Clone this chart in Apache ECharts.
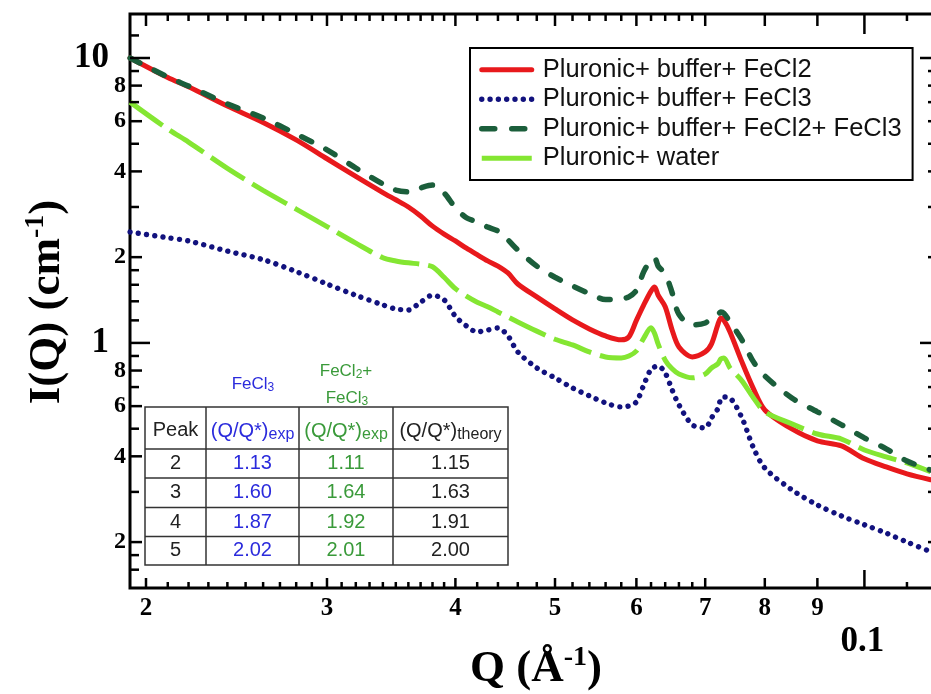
<!DOCTYPE html>
<html>
<head>
<meta charset="utf-8">
<script src="https://cdn.jsdelivr.net/npm/echarts@6/dist/echarts.min.js"></script>
<style>
  html, body { margin: 0; padding: 0; background: #fff; }
  #chart { width: 931px; height: 694px; }
</style>
</head>
<body>
<div id="chart"></div>
<script>
// Scattering vector Q (1/Angstrom), shared by all four curves
const qValues = [0.0193, 0.021, 0.022, 0.024, 0.026, 0.028, 0.030, 0.032, 0.034, 0.035,
  0.036, 0.037, 0.038, 0.039, 0.040, 0.041, 0.042, 0.043, 0.044, 0.045,
  0.046, 0.048, 0.050, 0.052, 0.054, 0.056, 0.058, 0.059, 0.060, 0.061,
  0.062, 0.0625, 0.063, 0.064, 0.065, 0.066, 0.068, 0.070, 0.071, 0.072,
  0.0725, 0.073, 0.074, 0.076, 0.078, 0.080, 0.085, 0.090, 0.095, 0.100,
  0.105, 0.110, 0.116];

// Scattered intensity I(Q) in 1/cm
const iFeCl2 = [10.0, 8.54, 7.92, 6.78, 5.94, 5.16, 4.43, 3.84, 3.37, 3.18,
  3.00, 2.79, 2.57, 2.41, 2.28, 2.15, 2.04, 1.94, 1.86, 1.76,
  1.61, 1.45, 1.316, 1.204, 1.12, 1.058, 1.025, 1.05, 1.20, 1.36,
  1.52, 1.57, 1.47, 1.34, 1.11, 0.968, 0.893, 0.93, 0.992, 1.157,
  1.224, 1.20, 1.093, 0.858, 0.690, 0.582, 0.499, 0.453, 0.435, 0.392,
  0.367, 0.347, 0.331];

const iFeCl3 = [2.45, 2.34, 2.28, 2.10, 1.96, 1.78, 1.61, 1.47, 1.36, 1.316,
  1.305, 1.39, 1.47, 1.416, 1.24, 1.147, 1.093, 1.11, 1.129, 1.058,
  0.930, 0.817, 0.754, 0.695, 0.652, 0.616, 0.596, 0.601, 0.621, 0.712,
  0.811, 0.824, 0.830, 0.785, 0.684, 0.606, 0.516, 0.503, 0.546, 0.587,
  0.636, 0.646, 0.641, 0.546, 0.428, 0.364, 0.305, 0.270, 0.247, 0.230,
  0.215, 0.200, 0.185];

const iFeCl2FeCl3 = [10.0, 8.58, 7.97, 6.90, 6.16, 5.41, 4.76, 4.11, 3.61, 3.44,
  3.39, 3.50, 3.58, 3.36, 2.98, 2.75, 2.66, 2.55, 2.47, 2.30,
  2.12, 1.86, 1.70, 1.585, 1.49, 1.42, 1.43, 1.45, 1.53, 1.78,
  1.96, 1.99, 1.86, 1.75, 1.50, 1.26, 1.157, 1.175, 1.224, 1.25,
  1.285, 1.27, 1.185, 1.025, 0.858, 0.766, 0.641, 0.573, 0.516, 0.464,
  0.425, 0.385, 0.358];

const iWater = [7.0, 5.63, 5.07, 4.10, 3.43, 2.95, 2.56, 2.24, 1.99, 1.94,
  1.91, 1.89, 1.85, 1.70, 1.55, 1.46, 1.39, 1.34, 1.285, 1.234,
  1.185, 1.10, 1.03, 0.984, 0.930, 0.893, 0.886, 0.90, 0.937, 1.04,
  1.13, 1.08, 0.99, 0.87, 0.811, 0.778, 0.754, 0.778, 0.817, 0.844,
  0.879, 0.886, 0.817, 0.736, 0.641, 0.573, 0.52, 0.479, 0.46, 0.421,
  0.398, 0.379, 0.353];

const seriesNames = [
  'Pluronic+ buffer+ FeCl2',
  'Pluronic+ buffer+ FeCl3',
  'Pluronic+ buffer+ FeCl2+ FeCl3',
  'Pluronic+ water'
];

// Axis ranges
const qMin = 0.019296, qMax = 0.11687;
const iMin = 0.138, iMax = 14.27;

// Tick marks and their labels
const xMinorTicks = [0.021, 0.022, 0.023, 0.024, 0.025, 0.026, 0.027, 0.028, 0.029,
  0.031, 0.032, 0.033, 0.034, 0.035, 0.036, 0.037, 0.038, 0.039,
  0.042, 0.044, 0.046, 0.048, 0.052, 0.054, 0.056, 0.058,
  0.062, 0.064, 0.066, 0.068, 0.11];
const xMajorTicks = [0.02, 0.03, 0.04, 0.05, 0.06, 0.07, 0.08, 0.09];
const xMajorLabels = ['2', '3', '4', '5', '6', '7', '8', '9'];
const xDecadeTicks = [0.1];
const xDecadeLabels = ['0.1'];

const yMinorTicks = [0.16, 0.18, 0.3, 0.5, 0.7, 0.9, 1.2, 1.4, 1.6, 1.8, 3, 5, 7, 9, 12];
const yRightMinorTicks = [0.3, 0.5, 0.7, 0.9, 3, 5, 7, 9];
const yMajorTicks = [0.2, 0.4, 0.6, 0.8, 2, 4, 6, 8];
const yMajorLabels = ['2', '4', '6', '8', '2', '4', '6', '8'];
const yDecadeTicks = [1, 10];
const yDecadeLabels = ['1', '10'];

// Peak position table
const tablePeaks = ['2', '3', '4', '5'];
const tableFeCl3 = ['1.13', '1.60', '1.87', '2.02'];
const tableMixed = ['1.11', '1.64', '1.92', '2.01'];
const tableTheory = ['1.15', '1.63', '1.91', '2.00'];

const SERIF = "'Liberation Serif','Times New Roman',serif";
const SANS = "'Liberation Sans',Arial,Helvetica,sans-serif";
const BLUE_TXT = '#2b2bdc';
const GREEN_TXT = '#3a9a3a';

function pairs(values) {
  return qValues.map((q, k) => [q, values[k]]);
}

const xTickList = [].concat(
  xMinorTicks.map(v => ({ v, kind: 0, label: '' })),
  xMajorTicks.map((v, k) => ({ v, kind: 1, label: xMajorLabels[k] })),
  xDecadeTicks.map((v, k) => ({ v, kind: 2, label: xDecadeLabels[k] }))
);
const yTickList = [].concat(
  yMinorTicks.map(v => ({ v, kind: 0, label: '', right: yRightMinorTicks.indexOf(v) >= 0 })),
  yMajorTicks.map((v, k) => ({ v, kind: 1, label: yMajorLabels[k], right: true })),
  yDecadeTicks.map((v, k) => ({ v, kind: 2, label: yDecadeLabels[k], right: true }))
);

function tickLine(x1, y1, x2, y2) {
  return { type: 'line', shape: { x1, y1, x2, y2 }, style: { stroke: '#000', lineWidth: 2.5 } };
}

function renderXTick(params, api) {
  const t = xTickList[params.dataIndex];
  const cs = params.coordSys;
  const x = api.coord([t.v, 1])[0];
  const top = cs.y, bottom = cs.y + cs.height;
  const lenBottom = [6, 10, 18][t.kind];
  const lenTop = [7, 12, 20][t.kind];
  const children = [
    tickLine(x, bottom, x, bottom - lenBottom),
    tickLine(x, top, x, top + lenTop)
  ];
  if (t.kind === 1) {
    children.push({ type: 'text', x: x, y: bottom + 21,
      style: { text: t.label, fill: '#000', fontFamily: SERIF, fontWeight: 'bold', fontSize: 25,
        align: 'center', verticalAlign: 'middle' } });
  } else if (t.kind === 2) {
    children.push({ type: 'text', x: x - 2, y: bottom + 54,
      style: { text: t.label, fill: '#000', fontFamily: SERIF, fontWeight: 'bold', fontSize: 35,
        align: 'center', verticalAlign: 'middle' } });
  }
  return { type: 'group', children };
}

function renderYTick(params, api) {
  const t = yTickList[params.dataIndex];
  const cs = params.coordSys;
  const y = api.coord([qMin, t.v])[1];
  const left = cs.x, right = cs.x + cs.width;
  const lenLeft = [9, 12, 20][t.kind];
  const lenRight = [6, 6, 14][t.kind];
  const children = [tickLine(left, y, left + lenLeft, y)];
  if (t.right) children.push(tickLine(right, y, right - lenRight, y));
  if (t.kind === 1) {
    children.push({ type: 'text', x: left - 4, y: y,
      style: { text: t.label, fill: '#000', fontFamily: SERIF, fontWeight: 'bold', fontSize: 24,
        align: 'right', verticalAlign: 'middle' } });
  } else if (t.kind === 2) {
    children.push({ type: 'text', x: left - 21, y: y,
      style: { text: t.label, fill: '#000', fontFamily: SERIF, fontWeight: 'bold', fontSize: 35,
        align: 'right', verticalAlign: 'middle' } });
  }
  return { type: 'group', children };
}

// Peak ratio table drawn as graphic elements
function buildTable() {
  const colX = [145, 206, 299, 393, 508];
  const rowY = [407, 449, 478, 507.5, 536.5, 565];
  const els = [];
  els.push({ type: 'rect', shape: { x: colX[0], y: rowY[0], width: colX[4] - colX[0], height: rowY[5] - rowY[0] },
    style: { fill: '#fff', stroke: '#333', lineWidth: 1.5 } });
  for (let c = 1; c < colX.length - 1; c++) {
    els.push({ type: 'line', shape: { x1: colX[c], y1: rowY[0], x2: colX[c], y2: rowY[5] },
      style: { stroke: '#333', lineWidth: 1.5 } });
  }
  for (let r = 1; r < rowY.length - 1; r++) {
    els.push({ type: 'line', shape: { x1: colX[0], y1: rowY[r], x2: colX[4], y2: rowY[r] },
      style: { stroke: '#333', lineWidth: 1.5 } });
  }
  const mid = c => (colX[c] + colX[c + 1]) / 2;
  const subRich = color => ({
    m: { fontFamily: SANS, fontSize: 20, fill: color, lineHeight: 22, verticalAlign: 'top' },
    s: { fontFamily: SANS, fontSize: 16, fill: color, lineHeight: 16, padding: [12, 0, 0, 0], verticalAlign: 'bottom' }
  });
  const headY = 432;
  els.push({ type: 'text', x: mid(0), y: 430,
    style: { text: 'Peak', fill: '#222', fontFamily: SANS, fontSize: 20, align: 'center', verticalAlign: 'middle' } });
  els.push({ type: 'text', x: mid(1), y: headY,
    style: { text: '{m|(Q/Q*)}{s|exp}', rich: subRich(BLUE_TXT), align: 'center', verticalAlign: 'middle' } });
  els.push({ type: 'text', x: mid(2), y: headY,
    style: { text: '{m|(Q/Q*)}{s|exp}', rich: subRich(GREEN_TXT), align: 'center', verticalAlign: 'middle' } });
  els.push({ type: 'text', x: mid(3), y: headY,
    style: { text: '{m|(Q/Q*)}{s|theory}', rich: subRich('#222'), align: 'center', verticalAlign: 'middle' } });
  const cols = [[tablePeaks, '#222'], [tableFeCl3, BLUE_TXT], [tableMixed, GREEN_TXT], [tableTheory, '#222']];
  cols.forEach(([vals, color], c) => {
    vals.forEach((txt, r) => {
      els.push({ type: 'text', x: mid(c), y: (rowY[r + 1] + rowY[r + 2]) / 2,
        style: { text: txt, fill: color, fontFamily: SANS, fontSize: 20, align: 'center', verticalAlign: 'middle' } });
    });
  });
  // column captions above the table
  const capRich = color => ({
    m: { fontFamily: SANS, fontSize: 17, fill: color, lineHeight: 18, verticalAlign: 'top' },
    s: { fontFamily: SANS, fontSize: 12, fill: color, lineHeight: 12, padding: [9, 0, 0, 0], verticalAlign: 'bottom' }
  });
  els.push({ type: 'text', x: 253, y: 385,
    style: { text: '{m|FeCl}{s|3}', rich: capRich(BLUE_TXT), align: 'center', verticalAlign: 'middle' } });
  els.push({ type: 'text', x: 346, y: 372,
    style: { text: '{m|FeCl}{s|2}{m|+}', rich: capRich(GREEN_TXT), align: 'center', verticalAlign: 'middle' } });
  els.push({ type: 'text', x: 347, y: 399,
    style: { text: '{m|FeCl}{s|3}', rich: capRich(GREEN_TXT), align: 'center', verticalAlign: 'middle' } });
  return els;
}

const supRich = {
  m: { fontFamily: SERIF, fontWeight: 'bold', fontSize: 45, fill: '#000', lineHeight: 48, verticalAlign: 'bottom' },
  s: { fontFamily: SERIF, fontWeight: 'bold', fontSize: 28, fill: '#000', lineHeight: 28, verticalAlign: 'top' }
};

const chart = echarts.init(document.getElementById('chart'), null, { renderer: 'canvas' });

chart.setOption({
  animation: false,
  backgroundColor: '#fff',
  grid: {
    left: 130, right: -3, top: 14, bottom: 106,
    show: true, borderColor: '#000', borderWidth: 3,
    outerBoundsMode: 'none'
  },
  xAxis: {
    type: 'log', logBase: 10, min: qMin, max: qMax,
    axisLine: { show: false }, axisTick: { show: false }, axisLabel: { show: false },
    splitLine: { show: false }, minorTick: { show: false }
  },
  yAxis: {
    type: 'log', logBase: 10, min: iMin, max: iMax,
    axisLine: { show: false }, axisTick: { show: false }, axisLabel: { show: false },
    splitLine: { show: false }, minorTick: { show: false }
  },
  legend: {
    orient: 'vertical', left: 470, top: 48,
    padding: [7, 11, 7, 9], itemGap: 0, itemWidth: 50, itemHeight: 14,
    backgroundColor: '#fff', borderColor: '#000', borderWidth: 2,
    selectedMode: false,
    textStyle: { fontFamily: SANS, fontSize: 25.5, color: '#111', lineHeight: 29.5, padding: [0, 0, 0, 6] },
    lineStyle: { width: 'inherit', type: 'inherit', cap: 'inherit' },
    itemStyle: { opacity: 0, borderWidth: 0 },
    data: [
      { name: seriesNames[0] },
      { name: seriesNames[1] },
      { name: seriesNames[2], lineStyle: { type: [13, 17] } },
      { name: seriesNames[3], lineStyle: { type: 'solid' } }
    ]
  },
  graphic: [
    { type: 'text', x: 46, y: 302, rotation: Math.PI / 2,
      style: { text: '{m|I(Q) (cm}{s|-1}{m|)}', rich: supRich, align: 'center', verticalAlign: 'middle' } },
    { type: 'text', x: 536, y: 668,
      style: { text: '{m|Q (\u00C5}{s|-1}{m|)}', rich: supRich, align: 'center', verticalAlign: 'middle' } },
    { type: 'group', children: buildTable() }
  ],
  series: [
    {
      name: seriesNames[0], type: 'line', data: pairs(iFeCl2),
      showSymbol: false, symbol: 'none', smooth: 0.3, z: 3,
      lineStyle: { color: '#e8191c', width: 5, type: 'solid', cap: 'round', join: 'round' },
      itemStyle: { color: '#e8191c' }
    },
    {
      name: seriesNames[1], type: 'line', data: pairs(iFeCl3),
      showSymbol: false, symbol: 'none', smooth: 0.3, z: 3,
      lineStyle: { color: '#12127e', width: 5.4, type: [0.01, 8.3], cap: 'round' },
      itemStyle: { color: '#12127e' }
    },
    {
      name: seriesNames[3], type: 'line', data: pairs(iWater),
      showSymbol: false, symbol: 'none', smooth: 0.3, z: 3,
      lineStyle: { color: '#84e632', width: 5, type: [40, 9], cap: 'butt' },
      itemStyle: { color: '#84e632' }
    },
    {
      name: seriesNames[2], type: 'line', data: pairs(iFeCl2FeCl3),
      showSymbol: false, symbol: 'none', smooth: 0.3, z: 4,
      lineStyle: { color: '#1b5e3b', width: 5.5, type: [11, 16], cap: 'round' },
      itemStyle: { color: '#1b5e3b' }
    },
    {
      name: 'x ticks', type: 'custom', coordinateSystem: 'cartesian2d', silent: true, z: 6,
      data: xTickList.map(t => [t.v, 1]),
      renderItem: renderXTick
    },
    {
      name: 'y ticks', type: 'custom', coordinateSystem: 'cartesian2d', silent: true, z: 6,
      data: yTickList.map(t => [qMin, t.v]),
      renderItem: renderYTick
    }
  ]
});
</script>
</body>
</html>
